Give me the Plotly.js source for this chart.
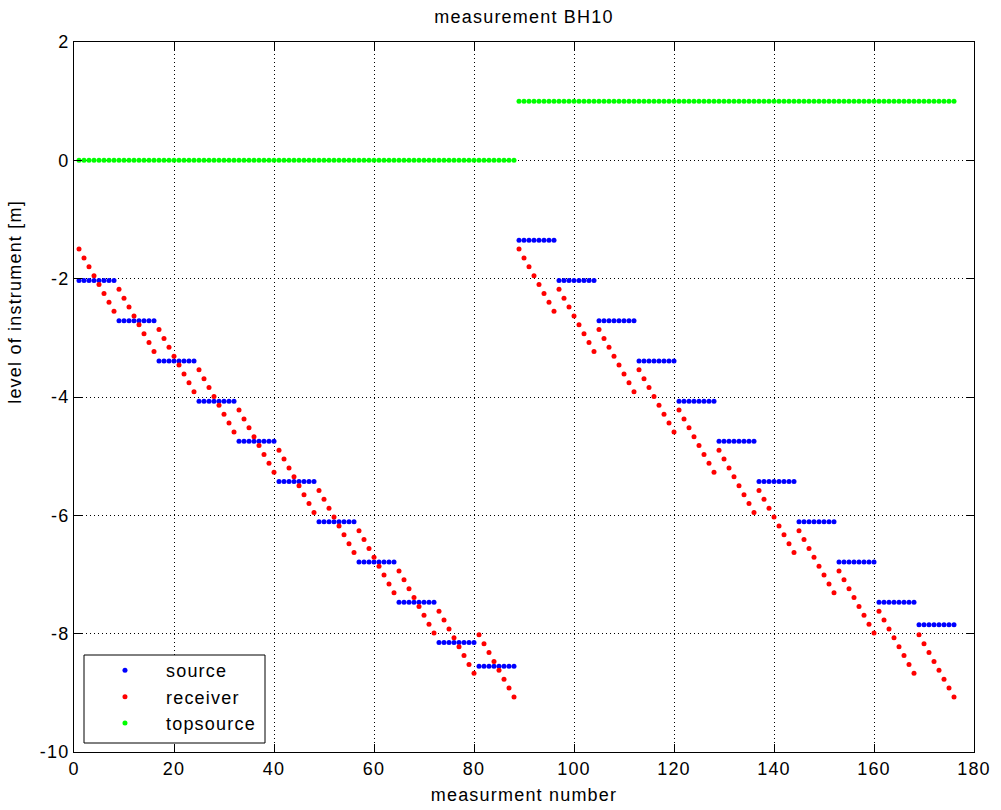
<!DOCTYPE html>
<html>
<head>
<meta charset="utf-8">
<script src="https://cdn.plot.ly/plotly-3.0.1.min.js"></script>
<style>
  html, body { margin: 0; padding: 0; background: #fff; }
  #chart { width: 1001px; height: 810px; }
  #chart svg text { letter-spacing: 1.2px; }
  #chart .legend [clip-path] { clip-path: none !important; }
</style>
</head>
<body>
<div id="chart"></div>
<script>
// measurement numbers (1..176), split in two runs of 88
const measurementsRun1 = [1,2,3,4,5,6,7,8,9,10,11,12,13,14,15,16,17,18,19,20,21,22,23,24,25,26,27,28,29,30,31,32,33,34,35,36,37,38,39,40,41,42,43,44,45,46,47,48,49,50,51,52,53,54,55,56,57,58,59,60,61,62,63,64,65,66,67,68,69,70,71,72,73,74,75,76,77,78,79,80,81,82,83,84,85,86,87,88];
const measurementsRun2 = [89,90,91,92,93,94,95,96,97,98,99,100,101,102,103,104,105,106,107,108,109,110,111,112,113,114,115,116,117,118,119,120,121,122,123,124,125,126,127,128,129,130,131,132,133,134,135,136,137,138,139,140,141,142,143,144,145,146,147,148,149,150,151,152,153,154,155,156,157,158,159,160,161,162,163,164,165,166,167,168,169,170,171,172,173,174,175,176];

// source level per group of 8 measurements
const sourceLevelsRun1 = [-2.03,-2.71,-3.39,-4.07,-4.75,-5.43,-6.11,-6.79,-7.47,-8.15,-8.55];
const sourceLevelsRun2 = [-1.35,-2.03,-2.71,-3.39,-4.07,-4.75,-5.43,-6.11,-6.79,-7.47,-7.85];
const pointsPerGroup = 8;

// receiver levels (same sequence in both runs)
const receiverRun = [
  -1.50,-1.65,-1.80,-1.95,-2.10,-2.25,-2.40,-2.55,
  -2.18,-2.33,-2.48,-2.63,-2.78,-2.93,-3.08,-3.23,
  -2.86,-3.01,-3.16,-3.31,-3.46,-3.61,-3.76,-3.91,
  -3.54,-3.69,-3.84,-3.99,-4.14,-4.29,-4.44,-4.59,
  -4.22,-4.37,-4.52,-4.67,-4.82,-4.97,-5.12,-5.27,
  -4.90,-5.05,-5.20,-5.35,-5.50,-5.65,-5.80,-5.95,
  -5.58,-5.73,-5.88,-6.03,-6.18,-6.33,-6.48,-6.63,
  -6.26,-6.41,-6.56,-6.71,-6.86,-7.01,-7.16,-7.31,
  -6.94,-7.09,-7.24,-7.39,-7.54,-7.69,-7.84,-7.99,
  -7.62,-7.77,-7.92,-8.07,-8.22,-8.37,-8.52,-8.67,
  -8.02,-8.17,-8.32,-8.47,-8.62,-8.77,-8.92,-9.07
];

// top source level per run
const topsourceRun1 = 0;
const topsourceRun2 = 1;

const xTickVals = [0,20,40,60,80,100,120,140,160,180];
const xTickText = ['0','20','40','60','80','100','120','140','160','180'];
const yTickVals = [-10,-8,-6,-4,-2,0,2];
const yTickText = ['-10','-8','-6','-4','-2','0','2'];

// build series
const expand = (levels) => levels.flatMap(v => Array(pointsPerGroup).fill(v));
const xAll = measurementsRun1.concat(measurementsRun2);
const sourceY = expand(sourceLevelsRun1).concat(expand(sourceLevelsRun2));
const receiverY = receiverRun.concat(receiverRun);
const topY = measurementsRun1.map(() => topsourceRun1).concat(measurementsRun2.map(() => topsourceRun2));

const font = {family: '"Liberation Sans", Arial, sans-serif', size: 18, color: '#000'};
const mk = (c) => ({color: c, size: 5, symbol: 'circle', line: {width: 0}});

const traces = [
  {x: xAll, y: sourceY, name: 'source', mode: 'markers', type: 'scatter', marker: mk('#0000ff')},
  {x: xAll, y: receiverY, name: 'receiver', mode: 'markers', type: 'scatter', marker: mk('#ff0000')},
  {x: xAll, y: topY, name: 'topsource', mode: 'markers', type: 'scatter', marker: mk('#00ff00')}
];

const axisCommon = {
  showline: true, linecolor: '#000', linewidth: 1, mirror: 'ticks',
  ticks: 'inside', ticklen: 8, tickcolor: '#000', tickwidth: 1,
  showgrid: true, gridcolor: '#000', gridwidth: 1, griddash: '1px,3px',
  zeroline: false, tickfont: font
};

const layout = {
  width: 1001, height: 810,
  margin: {l: 74, r: 27, t: 42, b: 58},
  paper_bgcolor: '#fff', plot_bgcolor: '#fff',
  font: font,
  showlegend: true,
  title: {text: 'measurement BH10', font: font, x: 0.5, xref: 'paper', y: 1 - 17/810, yref: 'container', yanchor: 'middle'},
  xaxis: Object.assign({}, axisCommon, {
    range: [0, 180], tickmode: 'array', tickvals: xTickVals, ticktext: xTickText,
    title: {text: 'measurment number', font: font, standoff: 10}
  }),
  yaxis: Object.assign({}, axisCommon, {
    range: [-10, 2], tickmode: 'array', tickvals: yTickVals, ticktext: yTickText
  }),
  annotations: [{
    text: 'level of instrument [m]', textangle: -90, font: font,
    xref: 'paper', yref: 'paper', x: (15 - 74) / 900, y: (752 - 302) / 710,
    xanchor: 'center', yanchor: 'middle', showarrow: false
  }],
  shapes: [{
    type: 'rect', xref: 'paper', yref: 'paper', layer: 'above',
    x0: (84 - 74) / 900, x1: (265 - 74) / 900, y0: (752 - 743) / 710, y1: (752 - 655) / 710,
    line: {color: '#000', width: 1}, fillcolor: '#fff'
  }],
  legend: {
    x: 0.0111, y: 0.1408, xanchor: 'left', yanchor: 'top',
    bgcolor: 'rgba(0,0,0,0)', borderwidth: 0,
    font: font, itemwidth: 72, tracegroupgap: 0
  }
};

Plotly.newPlot('chart', traces, layout, {displayModeBar: false, staticPlot: true});
</script>
</body>
</html>
